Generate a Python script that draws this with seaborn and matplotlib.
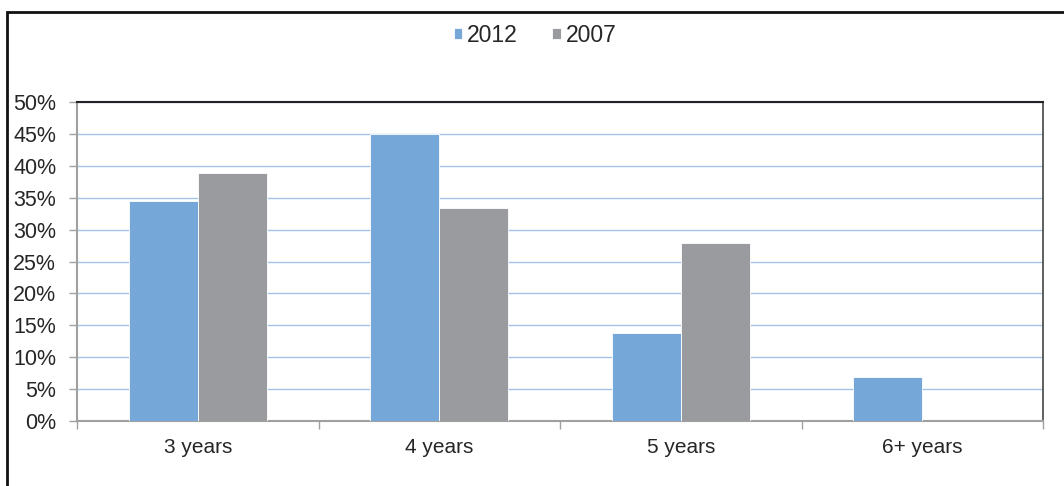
import matplotlib
matplotlib.use("Agg")
import matplotlib.pyplot as plt
import seaborn as sns
import pandas as pd
from matplotlib.patches import Rectangle
from matplotlib.ticker import FuncFormatter, MultipleLocator, FixedLocator

categories = ["3 years", "4 years", "5 years", "6+ years"]
series_names = ["2012", "2007"]
values_2012 = [34.5, 45.0, 13.8, 6.9]
values_2007 = [38.9, 33.4, 27.9, 0.0]
colors = ["#75A8D9", "#9A9B9F"]

df = pd.DataFrame({
    "category": categories * 2,
    "year": [series_names[0]] * 4 + [series_names[1]] * 4,
    "value": values_2012 + values_2007,
})

sns.set_theme(style="white")
plt.rcParams["font.family"] = ["Liberation Sans", "DejaVu Sans"]
text_color = "#262626"

fig = plt.figure(figsize=(10.64, 4.86), dpi=100)
ax = fig.add_axes([77 / 1064, 1 - 421 / 486, (1043 - 77) / 1064, (421 - 102) / 486])

sns.barplot(data=df, x="category", y="value", hue="year", order=categories,
            hue_order=series_names, palette=colors, width=0.57, gap=0,
            edgecolor="white", linewidth=0.6, saturation=1, ax=ax, zorder=3)

ax.set_ylim(0, 50)
ax.set_xlim(-0.5, 3.5)
ax.yaxis.set_major_locator(MultipleLocator(5))
ax.yaxis.set_major_formatter(FuncFormatter(lambda v, p: f"{int(round(v))}%"))
ax.grid(axis="y", color="#A4C2E6", linewidth=1.0, zorder=0)
ax.set_axisbelow(True)
ax.set_xlabel("")
ax.set_ylabel("")

ax.xaxis.set_minor_locator(FixedLocator([-0.5, 0.5, 1.5, 2.5, 3.5]))
ax.tick_params(axis="x", which="major", length=0, pad=12, labelsize=15, labelcolor=text_color)
ax.tick_params(axis="x", which="minor", length=6, width=1, color="#A0A0A0", direction="out", bottom=True)
ax.tick_params(axis="y", which="major", length=6, width=1, color="#A0A0A0", direction="out", left=True,
               labelsize=15.5, labelcolor=text_color, pad=9)

for s in ["left", "bottom"]:
    ax.spines[s].set_color("#A0A0A0")
    ax.spines[s].set_linewidth(1.5)
ax.spines["top"].set_color("#222222")
ax.spines["top"].set_linewidth(1.5)
ax.spines["right"].set_color("#444444")
ax.spines["right"].set_linewidth(1.2)

handles, labels = ax.get_legend_handles_labels()
leg = fig.legend(handles, labels, loc="center", bbox_to_anchor=(535 / 1064, 1 - 35 / 486),
                 ncol=2, frameon=False, fontsize=16.5, handlelength=0.38, handleheight=0.38,
                 handletextpad=0.2, columnspacing=1.5, labelcolor=text_color)
if ax.get_legend() is not None:
    ax.get_legend().remove()

fig.patches.append(Rectangle((7 / 1064, -0.1), 1.2, 1.1 - 12 / 486,
                             transform=fig.transFigure, fill=False,
                             edgecolor="#111111", linewidth=2, figure=fig))

fig.savefig("out.png", dpi=100, facecolor="white")
